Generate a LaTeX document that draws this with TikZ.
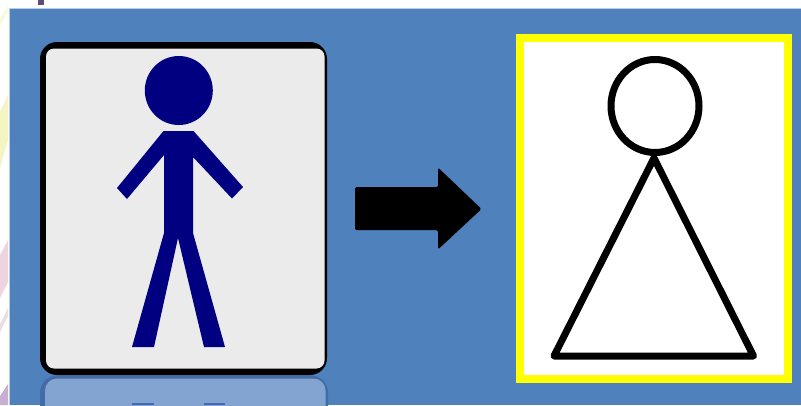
\documentclass[tikz,border=0pt]{standalone}
\definecolor{panel}{RGB}{79,129,189}
\definecolor{cardgray}{RGB}{235,235,235}
\definecolor{navyfig}{RGB}{0,0,128}
\definecolor{reflect}{RGB}{131,164,208}
\definecolor{reflectedge}{RGB}{66,108,165}
\definecolor{reflectfoot}{RGB}{68,104,184}
\definecolor{framey}{RGB}{255,255,0}
\definecolor{paleyellow}{RGB}{245,245,195}
\definecolor{palepink}{RGB}{238,212,222}
\definecolor{palegrey}{RGB}{232,222,228}
\definecolor{palepurple}{RGB}{200,175,210}
\definecolor{darkmark}{RGB}{95,75,120}
\tikzset{
  figline/.style={draw=black,line width=7pt,line join=round,line cap=round},
  navyshape/.style={fill=navyfig,draw=none},
}
\begin{document}
\begin{tikzpicture}[x=1pt,y=-1pt]
\useasboundingbox (0,0) rectangle (801,405);
\clip (0,0) rectangle (801,405);
\fill[white] (0,0) rectangle (801,405);
% faint backdrop at the left edge
\fill[paleyellow] (0,112) -- (8,95) -- (8,140) -- (0,168) -- cycle;
\fill[paleyellow!60!white] (0,18) -- (8,6) -- (8,12) -- (0,26) -- cycle;
\fill[palepink] (0,255) -- (8,240) -- (8,282) -- (0,298) -- cycle;
\fill[palegrey] (0,324) -- (8,308) -- (8,316) -- (0,332) -- cycle;
\fill[palepurple] (0,396) -- (8,384) -- (8,405) -- (0,405) -- cycle;
\fill[darkmark] (38,0) rectangle (44,5);
% panel
\fill[panel!40!white] (8.5,7.5) rectangle (801,405);
\fill[panel] (10,9) rectangle (801,405);
% reflection of the card
\fill[reflectedge,rounded corners=17pt] (40,375.5) rectangle (328,445);
\fill[reflect,rounded corners=12pt] (45,378.5) rectangle (325.5,445);
\fill[reflectfoot] (132,403) rectangle (154,405);
\fill[reflectfoot] (204,403) rectangle (225,405);
% card
\fill[black,rounded corners=17pt] (40,42) rectangle (327,375);
\fill[cardgray,rounded corners=8pt] (46,48.5) rectangle (324.5,368.5);
% stick figure
\fill[navyshape] (178.8,90.5) ellipse [x radius=34,y radius=34.5];
\fill[navyshape] (163.5,131) -- (193.5,131) -- (243,187) -- (232,198.5) -- (193,157)
  -- (193,233) -- (225,347) -- (204,347) -- (178,238) -- (154,347) -- (132,347)
  -- (164,233) -- (164,155) -- (127,199) -- (117,188) -- cycle;
% arrow
\fill[black,rounded corners=1.5pt] (355,187) -- (438,187) -- (438,167.5) -- (481.5,209)
  -- (438,249.5) -- (438,230) -- (355,230) -- cycle;
% framed figure
\fill[framey] (516,34) rectangle (791.7,382.7);
\fill[white] (524,42.3) rectangle (783.7,375);
\draw[figline] (655,106) ellipse [x radius=44,y radius=46.5];
\draw[figline] (654,158) -- (753.5,356) -- (554,356) -- cycle;
\end{tikzpicture}
\end{document}
